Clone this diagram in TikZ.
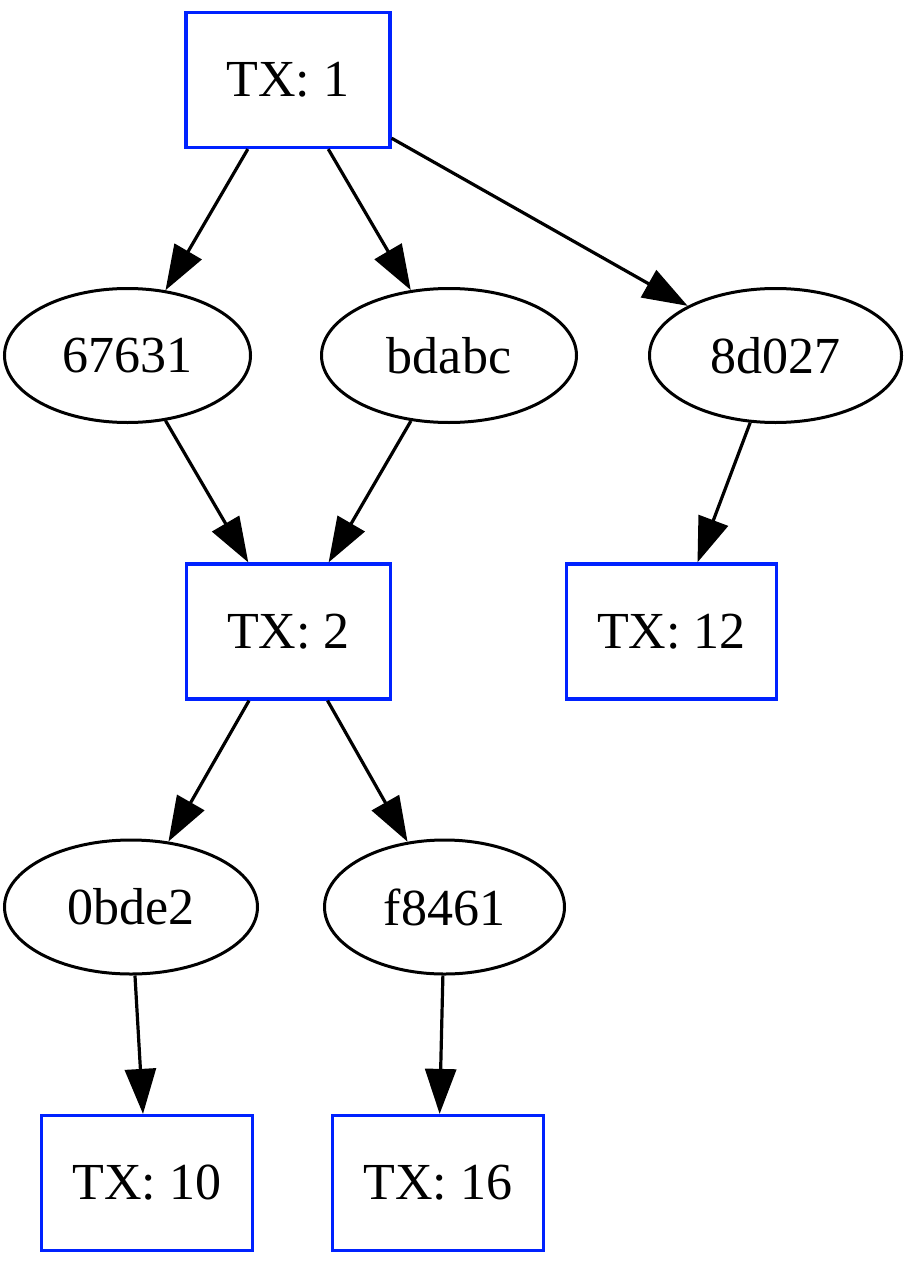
\documentclass[tikz,border=0pt]{standalone}
\usepackage{fontspec}
\setmainfont{Liberation Serif}
\usetikzlibrary{arrows.meta,shapes.geometric}
\definecolor{txblue}{RGB}{0,34,255}

\begin{document}
\begin{tikzpicture}[x=1pt,y=-1pt,
  every node/.style={font=\fontsize{52}{62}\selectfont, inner sep=0pt},
  tx/.style={draw=txblue, rectangle, line width=3.2pt, minimum height=135pt},
  hash/.style={draw, ellipse, line width=3pt, minimum height=134pt},
  edge/.style={line width=3.2pt, -{Triangle[length=45pt,width=31pt]}}]
\useasboundingbox (0,0) rectangle (915,1265);

\node[tx, minimum width=204pt] (tx1) at (288,80) {TX: 1};
\node[hash, minimum width=246pt] (h67631) at (127.5,355.5) {67631};
\node[hash, minimum width=255pt] (hbdabc) at (449,355.5) {bdabc};
\node[hash, minimum width=252pt] (h8d027) at (775.5,355.5) {8d027};
\node[tx, minimum width=204pt] (tx2) at (288.5,631.5) {TX: 2};
\node[tx, minimum width=210pt] (tx12) at (671.5,631.5) {TX: 12};
\node[hash, minimum width=253pt] (h0bde2) at (131,907) {0bde2};
\node[hash, minimum width=240pt] (hf8461) at (444.5,907) {f8461};
\node[tx, minimum width=211pt] (tx10) at (147,1183) {TX: 10};
\node[tx, minimum width=211pt] (tx16) at (438,1183) {TX: 16};

\draw[edge] (tx1) -- (h67631);
\draw[edge] (tx1) -- (hbdabc);
\draw[edge] (tx1) -- (h8d027);
\draw[edge] (h67631) -- (tx2);
\draw[edge] (hbdabc) -- (tx2);
\draw[edge] (h8d027) -- (tx12);
\draw[edge] (tx2) -- (h0bde2);
\draw[edge] (tx2) -- (hf8461);
\draw[edge] (h0bde2) -- (tx10);
\draw[edge] (hf8461) -- (tx16);
\end{tikzpicture}
\end{document}
